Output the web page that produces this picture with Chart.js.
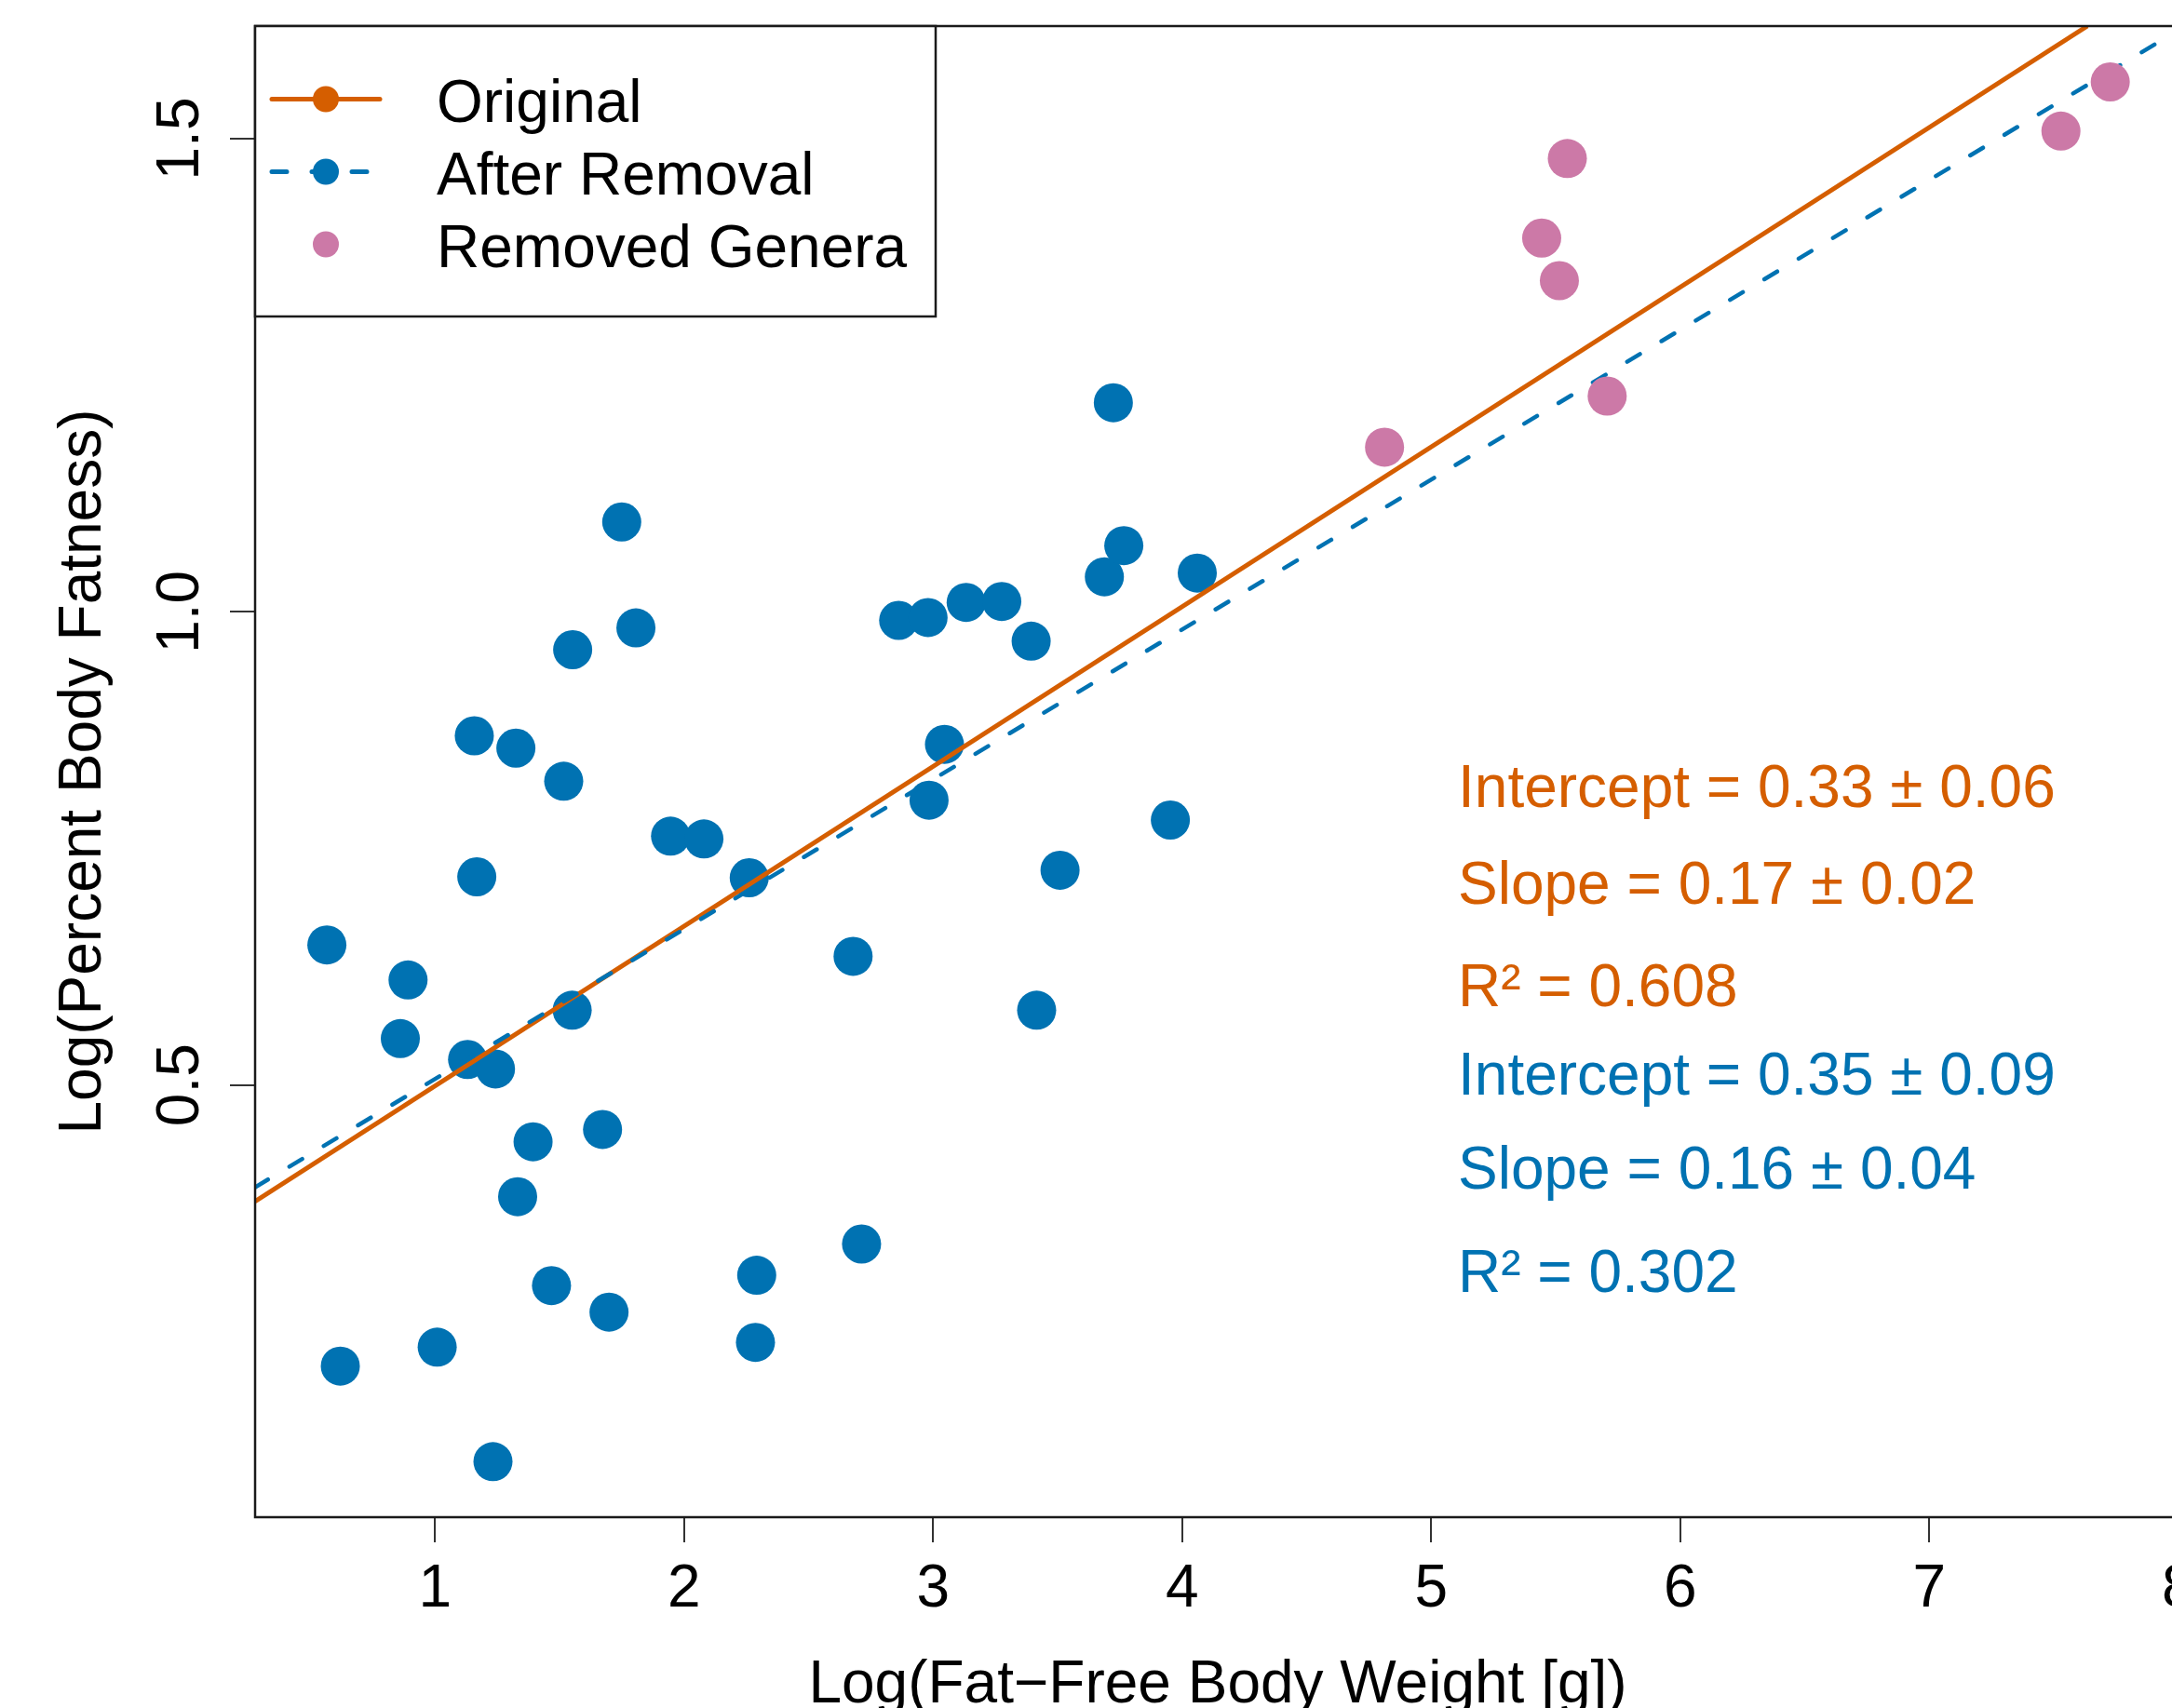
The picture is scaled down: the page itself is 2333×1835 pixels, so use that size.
<!DOCTYPE html>
<html lang="en">
<head>
<meta charset="UTF-8"/>
<title>Body fatness vs fat-free weight</title>
<script src="https://cdn.jsdelivr.net/npm/chart.js"></script>
<style>
  html, body { margin: 0; padding: 0; background: #fff; overflow: hidden; }
  #wrap { width: 2420px; height: 1835px; }
</style>
</head>
<body>
<div id="wrap"><canvas id="chart" width="2420" height="1835"></canvas></div>
<script>
// genera kept in the fit (blue)
const keptX = [0.566, 0.620, 0.892, 0.861, 1.009, 1.158, 1.168, 1.131, 1.243, 1.325, 1.394, 1.332, 1.233, 1.468,
               1.517, 1.553, 1.551, 1.673, 1.699, 1.750, 1.807, 1.946, 2.080, 2.262, 2.292, 2.287, 2.679, 2.713,
               2.862, 2.980, 2.984, 3.046, 3.133, 3.276, 3.394, 3.416, 3.510, 3.688, 3.724, 3.766, 3.953, 4.061];
const keptY = [0.648, 0.203, 0.611, 0.549, 0.223, 0.869, 0.720, 0.527, 0.517, 0.856, 0.440, 0.382, 0.102, 0.288,
               0.821, 0.960, 0.579, 0.453, 0.260, 1.095, 0.983, 0.763, 0.760, 0.719, 0.299, 0.228, 0.636, 0.332,
               0.991, 0.994, 0.801, 0.860, 1.010, 1.011, 0.969, 0.579, 0.727, 1.037, 1.221, 1.070, 0.780, 1.041];

// removed genera (pink)
const removedX = [4.813, 5.444, 5.515, 5.547, 5.707, 7.529, 7.727];
const removedY = [1.174, 1.395, 1.350, 1.479, 1.228, 1.508, 1.560];

// fitted line ends
const origLineX = [0.278, 7.635];
const origLineY = [0.377, 1.619];
const afterLineX = [0.278, 8.009];
const afterLineY = [0.392, 1.616];

// fit summaries printed in the panel
const fitIntercept = [0.33, 0.35];
const fitInterceptErr = [0.06, 0.09];
const fitSlope = [0.17, 0.16];
const fitSlopeErr = [0.02, 0.04];
const fitR2 = [0.608, 0.302];

const xTicks = [1, 2, 3, 4, 5, 6, 7, 8];
const yTicks = [0.5, 1.0, 1.5];
const xTitle = 'Log(Fat\u2212Free Body Weight [g])';
const yTitle = 'Log(Percent Body Fatness)';

const ORANGE = '#D55E00';
const BLUE = '#0072B2';
const PINK = '#CC79A7';
const FONT = '64px "Liberation Sans", Arial, sans-serif';

const pts = (xs, ys) => xs.map((x, i) => ({ x, y: ys[i] }));

// R-style frame, legend and all text
const decor = {
  id: 'decor',
  afterDraw(chart) {
    const { ctx, chartArea: a, scales: { x, y } } = chart;
    ctx.save();

    ctx.strokeStyle = '#1a1a1a';
    ctx.lineWidth = 2.5;
    ctx.strokeRect(a.left, a.top, a.right - a.left, a.bottom - a.top);

    ctx.font = FONT;
    ctx.fillStyle = '#000';
    ctx.textBaseline = 'alphabetic';
    ctx.textAlign = 'center';
    xTicks.forEach(v => ctx.fillText(String(v), x.getPixelForValue(v), a.bottom + 96));
    ctx.fillText(xTitle, (a.left + a.right) / 2, a.bottom + 199);

    yTicks.forEach(v => {
      ctx.save();
      ctx.translate(a.left - 61, y.getPixelForValue(v));
      ctx.rotate(-Math.PI / 2);
      ctx.fillText(v.toFixed(1), 0, 0);
      ctx.restore();
    });
    ctx.save();
    ctx.translate(108, (a.top + a.bottom) / 2);
    ctx.rotate(-Math.PI / 2);
    ctx.fillText(yTitle, 0, 0);
    ctx.restore();

    // legend box
    ctx.fillStyle = '#fff';
    ctx.fillRect(a.left, a.top, 731, 312);
    ctx.strokeStyle = '#1a1a1a';
    ctx.lineWidth = 2.5;
    ctx.strokeRect(a.left, a.top, 731, 312);

    const lx0 = a.left + 18, lx1 = a.left + 134, dotX = a.left + 76;
    const rows = [
      { label: 'Original', color: ORANGE, dash: [], line: true },
      { label: 'After Removal', color: BLUE, dash: [16, 27], line: true },
      { label: 'Removed Genera', color: PINK, dash: [], line: false }
    ];
    rows.forEach((r, i) => {
      const ly = a.top + 78.5 + i * 78;
      if (r.line) {
        ctx.strokeStyle = r.color;
        ctx.lineWidth = 5;
        ctx.lineCap = 'round';
        ctx.setLineDash(r.dash);
        ctx.beginPath();
        ctx.moveTo(lx0, ly);
        ctx.lineTo(lx1, ly);
        ctx.stroke();
        ctx.setLineDash([]);
      }
      ctx.fillStyle = r.color;
      ctx.beginPath();
      ctx.arc(dotX, ly, 14, 0, Math.PI * 2);
      ctx.fill();
      ctx.fillStyle = '#000';
      ctx.textAlign = 'left';
      ctx.fillText(r.label, a.left + 195, ly + 24.5);
    });

    // fit summaries
    const tx = 1566;
    const baselines = [[867, 971, 1081], [1176, 1277, 1388]];
    [ORANGE, BLUE].forEach((col, k) => {
      ctx.fillStyle = col;
      ctx.fillText('Intercept = ' + fitIntercept[k].toFixed(2) + ' \u00b1 ' + fitInterceptErr[k].toFixed(2), tx, baselines[k][0]);
      ctx.fillText('Slope = ' + fitSlope[k].toFixed(2) + ' \u00b1 ' + fitSlopeErr[k].toFixed(2), tx, baselines[k][1]);
      ctx.fillText('R\u00b2 = ' + fitR2[k].toFixed(3), tx, baselines[k][2]);
    });

    ctx.restore();
  }
};

const axisCommon = {
  type: 'linear',
  ticks: { display: false },
  border: { display: false },
  grid: { display: true, drawOnChartArea: false, drawTicks: true, tickLength: 27, color: '#333', lineWidth: 2 }
};

new Chart(document.getElementById('chart'), {
  type: 'scatter',
  data: {
    datasets: [
      { label: 'Removed Genera', data: pts(removedX, removedY), backgroundColor: PINK,
        pointRadius: 21, pointBorderWidth: 0, order: 1 },
      { label: 'After Removal', data: pts(afterLineX, afterLineY), showLine: true, borderColor: BLUE,
        borderWidth: 4.5, borderDash: [16, 27], borderCapStyle: 'round', pointRadius: 0, order: 2 },
      { label: 'Original', data: pts(origLineX, origLineY), showLine: true, borderColor: ORANGE,
        borderWidth: 5, pointRadius: 0, order: 3 },
      { label: 'Genera', data: pts(keptX, keptY), backgroundColor: BLUE,
        pointRadius: 21, pointBorderWidth: 0, order: 4 }
    ]
  },
  options: {
    responsive: false,
    animation: false,
    events: [],
    layout: { padding: { top: 28, right: 78, left: 0, bottom: 0 } },
    plugins: { legend: { display: false }, tooltip: { enabled: false } },
    scales: {
      x: { ...axisCommon, min: 0.2778, max: 8.0086,
           afterBuildTicks: ax => { ax.ticks = xTicks.map(v => ({ value: v })); },
           afterFit: ax => { ax.height = 205; } },
      y: { ...axisCommon, min: 0.0433, max: 1.619,
           afterBuildTicks: ax => { ax.ticks = yTicks.map(v => ({ value: v })); },
           afterFit: ax => { ax.width = 274; } }
    }
  },
  plugins: [decor]
});
</script>
</body>
</html>
